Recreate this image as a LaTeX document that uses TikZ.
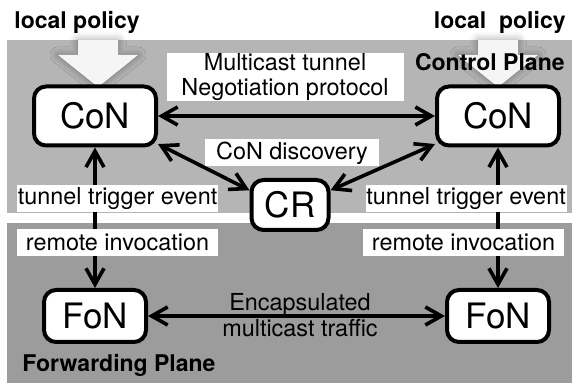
\documentclass[tikz,border=0pt]{standalone}
\usepackage{fontspec}
\setmainfont{TeX Gyre Heros}
\usetikzlibrary{positioning,arrows.meta,shadows.blur}

\definecolor{ctrlgray}{gray}{0.71}
\definecolor{fwdgray}{gray}{0.61}

\begin{document}
\begin{tikzpicture}[x=0.5pt,y=-0.5pt,
                    planenode/.style={rectangle, rounded corners=6pt, draw=black, fill=white, line width=2pt, inner sep=0pt, font=\fontsize{17.5}{20}\selectfont},
                    labelnode/.style={rectangle, fill=white, inner sep=0pt, minimum height=13.5pt, align=center, font=\fontsize{11.7}{12.6}\selectfont},
                    titlenode/.style={inner sep=0pt, font=\fontsize{11.5}{13}\selectfont\bfseries},
                    link/.style={line width=1.8pt, {Straight Barb[length=8pt,width=9pt]}-{Straight Barb[length=8pt,width=9pt]}},
                    policyarrow/.style={fill=gray!8, blur shadow={shadow xshift=0pt, shadow yshift=0pt, shadow blur radius=4pt, shadow opacity=40}}
                ]
                    \useasboundingbox (0,0) rectangle (572,383);
                    % the two planes
                    \fill[ctrlgray] (7,40) rectangle (572,213);
                    \fill[fwdgray] (7,223) rectangle (572,383);
                    % local policy arrows
                    \path[policyarrow] (78,40) -- (118,40) -- (118,55) -- (138,55) -- (98,87) -- (58,55) -- (78,55) -- cycle;
                    \path[policyarrow] (478,40) -- (518,40) -- (518,55) -- (538,55) -- (498,87) -- (458,55) -- (478,55) -- cycle;
                    \node[titlenode, anchor=west] (lpl) at (14,22) {local policy};
                    \node[titlenode, anchor=east] (lpr) at (566,22) {local\ \ policy};
                    \node[titlenode, anchor=east] (ctrl) at (565,62) {Control Plane};
                    \node[titlenode, anchor=west] (fwd) at (22,365) {Forwarding Plane};
                    % nodes
                    \node[planenode, minimum width=61pt, minimum height=29.5pt] (conl) at (95,116) {CoN};
                    \node[planenode, minimum width=61pt, minimum height=29.5pt] (conr) at (498,116) {CoN};
                    \node[planenode, minimum width=38.5pt, minimum height=25pt] (cr) at (290,205) {CR};
                    \node[planenode, minimum width=51pt, minimum height=26pt] (fonl) at (95,316) {FoN};
                    \node[planenode, minimum width=51pt, minimum height=26pt] (fonr) at (498,316) {FoN};
                    % connectors
                    \draw[link] (conl) -- (conr);
                    \draw[link] (conl.-24) -- (cr.160);
                    \draw[link] (conr.204) -- (cr.20);
                    \draw[link] (conl) -- (fonl);
                    \draw[link] (conr) -- (fonr);
                    \draw[link] (fonl) -- (fonr);
                    % labels
                    \node[labelnode, minimum width=118.5pt] (nego) at (285,77) {Multicast tunnel\\Negotiation protocol};
                    \node[labelnode, minimum width=87pt] (disc) at (292,153) {CoN discovery};
                    \node[labelnode, minimum width=100.5pt] (trigl) at (117.5,199) {tunnel trigger event};
                    \node[labelnode, minimum width=100.5pt] (trigr) at (466,199) {tunnel trigger event};
                    \node[labelnode, minimum width=100.5pt] (invl) at (117.5,242.5) {remote invocation};
                    \node[labelnode, minimum width=100.5pt] (invr) at (463.5,242.5) {remote invocation};
                    \node[labelnode, fill=none, font=\fontsize{11.7}{13}\selectfont] (encap) at (300,315) {Encapsulated\\multicast traffic};
                \end{tikzpicture}
\end{document}
